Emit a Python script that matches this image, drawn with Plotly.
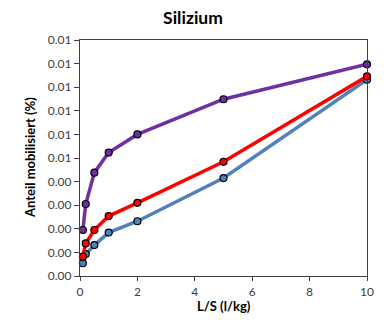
import plotly.graph_objects as go

ls = [0.1, 0.2, 0.5, 1, 2, 5, 10]
purple_vals = [0.00195, 0.00305, 0.00438, 0.00523, 0.00600, 0.00749, 0.00897]
red_vals = [0.00082, 0.00138, 0.00195, 0.00254, 0.00310, 0.00484, 0.00846]
blue_vals = [0.00054, 0.00093, 0.00131, 0.00184, 0.00232, 0.00415, 0.00832]

y_tickvals = [0, 0.001, 0.002, 0.003, 0.004, 0.005, 0.006, 0.007, 0.008, 0.009, 0.010]
y_ticktext = ["0.00", "0.00", "0.00", "0.00", "0.00", "0.01", "0.01", "0.01", "0.01", "0.01", "0.01"]
x_tickvals = [0, 2, 4, 6, 8, 10]

series = [
    (blue_vals, "#4F81BD"),
    (red_vals, "#FF0000"),
    (purple_vals, "#7030A0"),
]

fig = go.Figure()
for vals, col in series:
    fig.add_trace(go.Scatter(
        x=ls, y=vals, mode="lines+markers",
        line=dict(color=col, width=3.5),
        marker=dict(size=7, color=col, line=dict(color="black", width=1.2)),
        showlegend=False,
        cliponaxis=False,
    ))

font = "Lato, 'Open Sans', sans-serif"
W, L, R = 386, 80, 13
pw = W - L - R
fig.update_layout(
    width=W, height=329,
    margin=dict(l=L, r=R, t=40, b=53),
    paper_bgcolor="white", plot_bgcolor="white",
    title=dict(text="<b>Silizium</b>", x=0.5, xanchor="center", y=0.945, yanchor="middle",
               font=dict(family=font, size=17.5, color="black")),
    font=dict(family=font, size=12, color="#404040"),
    annotations=[
        dict(text="<b>Anteil mobilisiert (%)</b>", xref="paper", yref="paper",
             x=(29 - L) / pw, y=0.5, xanchor="center", yanchor="middle",
             textangle=-90, showarrow=False,
             font=dict(family=font, size=13, color="black")),
        dict(text="<b>L/S (l/kg)</b>", xref="paper", yref="paper",
             x=0.5, y=-(306 - 276) / 236, xanchor="center", yanchor="middle",
             showarrow=False,
             font=dict(family=font, size=13, color="black")),
    ],
)
fig.update_xaxes(
    range=[0, 10], tickvals=x_tickvals, ticks="outside", ticklen=4,
    tickcolor="#404040", showline=True, linecolor="#404040", linewidth=1.2,
    mirror=True, showgrid=False, zeroline=False,
    tickfont=dict(size=12, color="#404040"),
)
fig.update_yaxes(
    range=[0, 0.010], tickvals=y_tickvals, ticktext=y_ticktext, ticks="outside", ticklen=5,
    tickcolor="#404040", showline=True, linecolor="#404040", linewidth=1.2,
    mirror=True, showgrid=False, zeroline=False,
    tickfont=dict(size=12, color="#404040"),
)

fig.write_html("out.html")
